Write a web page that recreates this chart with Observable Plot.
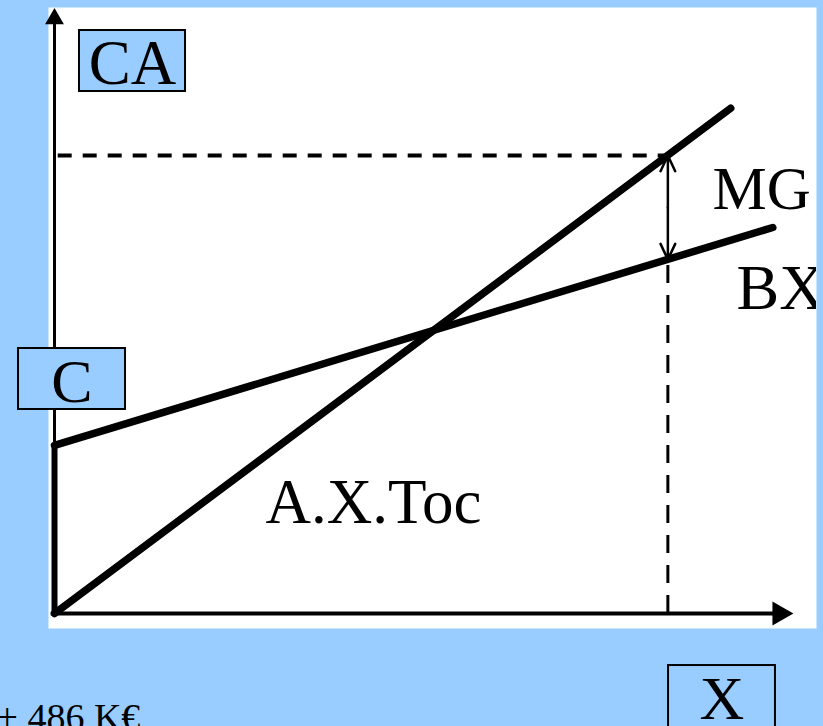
<!DOCTYPE html>
<html>
<head>
<meta charset="utf-8">
<script src="https://cdn.jsdelivr.net/npm/d3@7"></script>
<script src="https://cdn.jsdelivr.net/npm/@observablehq/plot@0.6"></script>
<style>
  html, body { margin: 0; padding: 0; background: #99ccff; overflow: hidden; }
  #chart svg { display: block; }
</style>
</head>
<body>
<div id="chart"></div>
<script>
// ---- data (arbitrary units 0..100) ----
const caX = [0, 91.5];          // chiffre d'affaires line A.X.Toc
const caY = [0, 83.5];
const costX = [0, 97.2];        // cost line C + B.X
const costY = [27.8, 63.8];
const fixedCost = 27.8;         // C
const xTarget = 83;             // chosen volume X
const caAtTarget = 75.7;        // CA at X
const costAtTarget = 58.5;      // BX at X
const labelCA = "CA";
const labelC = "C";
const labelX = "X";
const labelMG = "MG";
const labelBX = "BX";
const labelToc = "A.X.Toc";
const labelAmount = "+ 486 K€";

const ca = caX.map((x, i) => ({x, y: caY[i]}));
const cost = costX.map((x, i) => ({x, y: costY[i]}));
const mgMid = (caAtTarget + costAtTarget) / 2;

const serif = "Liberation Serif, Times New Roman, serif";
const blue = "#99ccff";

const txt = (label, x, y, size, anchor, extra = {}) =>
  Plot.text([label], {x: () => x, y: () => y, text: d => d, fontSize: size, textAnchor: anchor,
    lineAnchor: "bottom", fill: "black", fontFamily: serif, ...extra});

const chart = Plot.plot({
  width: 823,
  height: 726,
  marginLeft: 48,
  marginRight: 7,
  marginTop: 7,
  marginBottom: 98,
  style: {background: "transparent", fontFamily: serif},
  x: {domain: [0, 100], insetLeft: 6, insetRight: 23, axis: null},
  y: {domain: [0, 100], insetTop: 1, insetBottom: 15, axis: null},
  marks: [
    Plot.frame({fill: "white", stroke: "none"}),
    // dashed guides
    Plot.ruleY([caAtTarget], {x1: 0.5, x2: xTarget, stroke: "black", strokeWidth: 4, strokeDasharray: "14,11"}),
    Plot.ruleX([xTarget], {y1: 0, y2: costAtTarget, stroke: "black", strokeWidth: 3, strokeDasharray: "18,12"}),
    // axes
    Plot.link([0], {x1: 0, x2: 0, y1: 0, y2: fixedCost, stroke: "black", strokeWidth: 6}),
    Plot.link([0], {x1: 0, x2: 0, y1: fixedCost, y2: 97.5, stroke: "black", strokeWidth: 3}),
    Plot.dot([0], {x: 0, y: 98.3, symbol: "triangle", r: 7, fill: "black", stroke: "none"}),
    Plot.link([0], {x1: -0.5, x2: 97.5, y1: 0, y2: 0, stroke: "black", strokeWidth: 4}),
    Plot.dot([0], {x: 98.1, y: 0, symbol: "triangle", r: 9, rotate: 90, fill: "black", stroke: "none"}),
    // lines
    Plot.line(ca, {x: "x", y: "y", stroke: "black", strokeWidth: 7.5}),
    Plot.line(cost, {x: "x", y: "y", stroke: "black", strokeWidth: 7.5}),
    // margin double arrow
    Plot.arrow([0], {x1: xTarget, x2: xTarget, y1: mgMid, y2: caAtTarget, stroke: "black", strokeWidth: 2.5, headLength: 14, headAngle: 50}),
    Plot.arrow([0], {x1: xTarget, x2: xTarget, y1: mgMid, y2: costAtTarget, stroke: "black", strokeWidth: 2.5, headLength: 14, headAngle: 50}),
    // boxed labels
    Plot.rect([0], {x1: 3.38, x2: 17.73, y1: 86.28, y2: 96.36, fill: blue, stroke: "black", strokeWidth: 2}),
    txt(labelCA, 10.55, 87.6, 63, "middle"),
    Plot.rect([0], {x1: -4.87, x2: 9.61, y1: 33.72, y2: 43.8, fill: blue, stroke: "black", strokeWidth: 2}),
    txt(labelC, 2.37, 35.0, 62, "middle"),
    Plot.rect([0], {x1: 83.09, x2: 97.56, y1: -21, y2: -8.6, fill: blue, stroke: "black", strokeWidth: 2}),
    txt(labelX, 90.3, -17.5, 62, "middle"),
    // plain labels
    txt(labelMG, 89.04, 66.94, 61, "start"),
    txt(labelBX, 92.3, 50.25, 64, "start", {clip: true}),
    txt(labelToc, 28.55, 14.88, 63, "start"),
    txt(labelAmount, -7.85, -19.3, 38, "start")
  ]
});
document.getElementById("chart").appendChild(chart);
</script>
</body>
</html>
